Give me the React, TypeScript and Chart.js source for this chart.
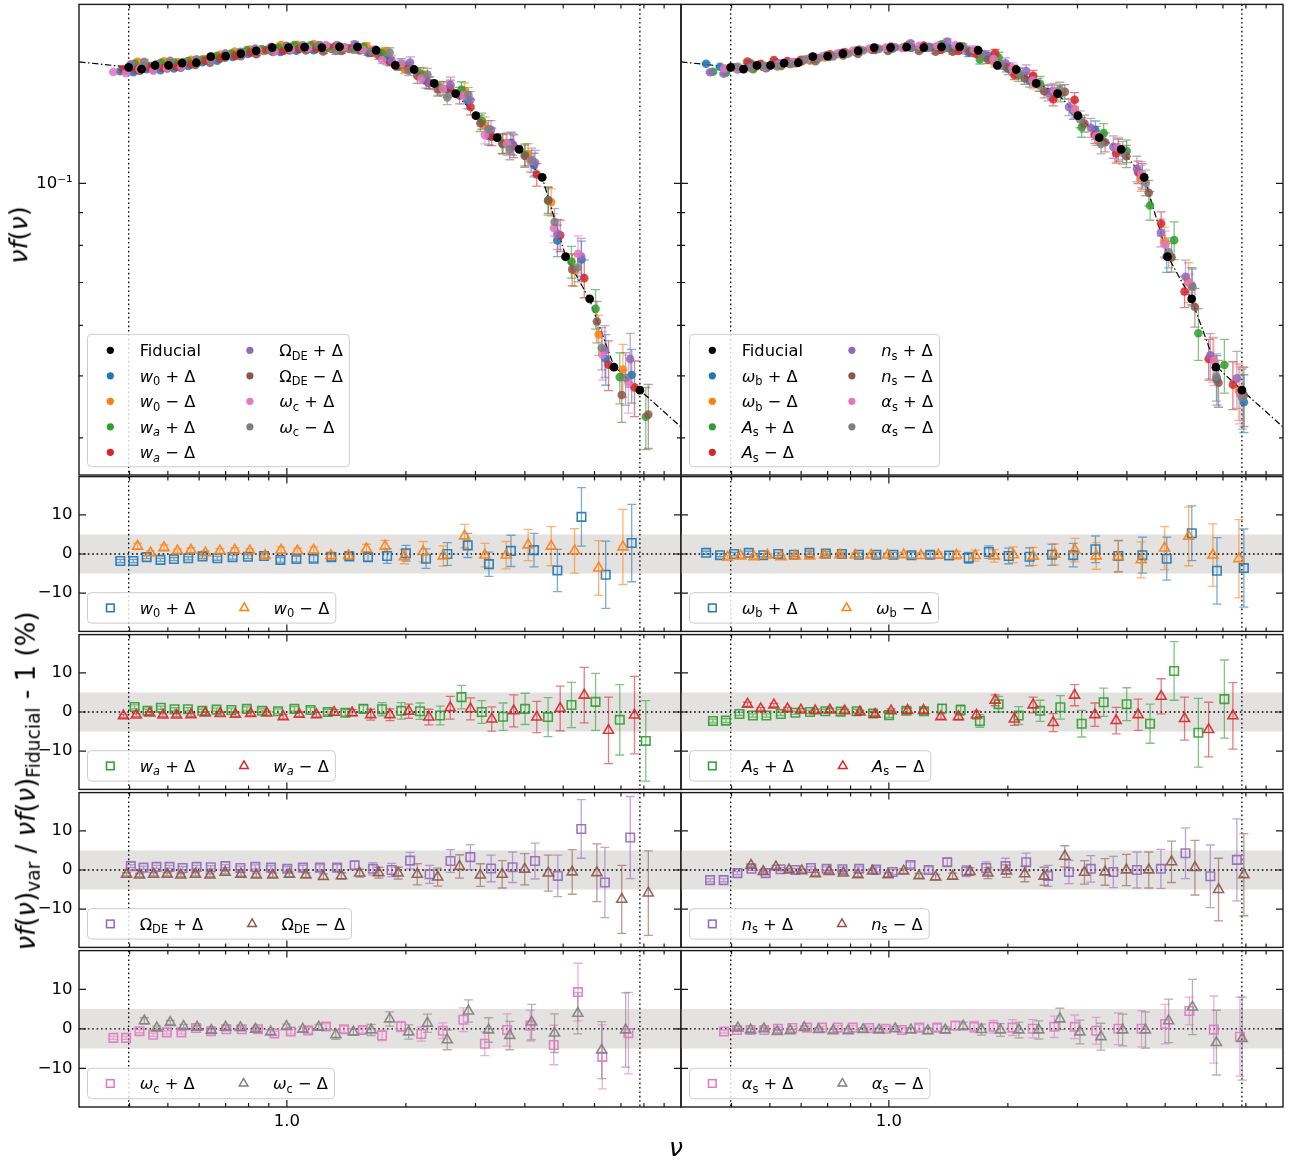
import React, { useEffect, useRef } from "react";
import { Chart, registerables } from "chart.js";

Chart.register(...registerables);

const FF = "'DejaVu Sans', 'Liberation Sans', sans-serif";
const TICK_FS = 16.5;
const LEG_FS = 16.3;

// ---------------- axes ----------------
const NU_MIN = 0.298;
const NU_MAX = 9.93;
const NUF_MIN = 0.035;
const NUF_MAX = 0.1905;
const RATIO_MIN = -19.8;
const RATIO_MAX = 19.8;
const BAND_LO = -5;
const BAND_HI = 5;

const xTickValues = [0.4, 0.5, 0.6, 0.7, 0.8, 0.9, 1, 2, 3, 4, 5, 6, 7, 8, 9];
const xTickLabels = ["", "", "", "", "", "", "1.0", "", "", "", "", "", "", "", ""];
const xTickMajor = [0, 0, 0, 0, 0, 0, 1, 0, 0, 0, 0, 0, 0, 0, 0];
const topYTickValues = [0.04, 0.05, 0.06, 0.07, 0.08, 0.09, 0.1];
const topYTickLabels = ["", "", "", "", "", "", "10\u207B\u00B9"];
const topYTickMajor = [0, 0, 0, 0, 0, 0, 1];
const ratioYTickValues = [-10, 0, 10];
const ratioYTickLabels = ["\u221210", "0", "10"];
const ratioYTickMajor = [1, 1, 1];

// ---------------- fiducial ----------------
const nuFid = [0.398, 0.429, 0.464, 0.502, 0.543, 0.590, 0.642, 0.700, 0.765, 0.836, 0.918, 1.010, 1.109, 1.226, 1.359, 1.509, 1.682, 1.881, 2.099, 2.359, 2.672, 3.007, 3.404, 3.869, 4.424, 5.070, 5.833, 6.718, 7.816];
const nufFid = [0.1518, 0.1509, 0.1529, 0.1529, 0.1542, 0.1544, 0.1578, 0.1581, 0.1596, 0.1612, 0.1631, 0.1631, 0.1633, 0.1631, 0.1635, 0.1635, 0.1615, 0.1529, 0.1507, 0.1433, 0.1382, 0.1276, 0.1179, 0.1130, 0.1022, 0.0768, 0.0660, 0.0516, 0.0475];

// fitting-function curve (dash-dot)
const nuFit = [0.298, 0.398, 0.429, 0.464, 0.502, 0.543, 0.590, 0.642, 0.700, 0.765, 0.836, 0.918, 1.010, 1.109, 1.226, 1.359, 1.509, 1.682, 1.881, 2.099, 2.359, 2.672, 3.007, 3.404, 3.869, 4.424, 5.070, 5.833, 6.718, 7.816, 9.93];
const nufFit = [0.1549, 0.1520, 0.1518, 0.1524, 0.1530, 0.1538, 0.1550, 0.1566, 0.1582, 0.1598, 0.1613, 0.1626, 0.1632, 0.1635, 0.1636, 0.1636, 0.1630, 0.1605, 0.1545, 0.1500, 0.1438, 0.1380, 0.1280, 0.1180, 0.1128, 0.1022, 0.0770, 0.0658, 0.0518, 0.0475, 0.0416];

// ---------------- left column variations (ratio in %) ----------------
const nuW0p = [0.379, 0.409, 0.442, 0.479, 0.518, 0.563, 0.612, 0.667, 0.729, 0.797, 0.875, 0.963, 1.057, 1.169, 1.296, 1.439, 1.604, 1.793, 2.001, 2.249, 2.547, 2.867, 3.245, 3.689, 4.218, 4.834, 5.561, 6.405, 7.452];
const valW0p = [-1.8, -1.8, -0.8, -1.5, -1.3, -1.1, -0.6, -1.1, -0.8, -0.7, -0.5, -1.5, -1.3, -1.2, -0.8, -0.6, -0.8, -0.5, 0.2, -1.2, 0, 2.2, -2.6, 0.8, 1.0, -4.2, 9.5, -5.3, 2.8];
const errW0p = [0.4, 0.4, 0.4, 0.4, 0.4, 0.4, 0.5, 0.5, 0.5, 0.5, 0.6, 0.6, 0.7, 0.8, 0.9, 1.0, 1.1, 1.9, 2.0, 2.5, 2.9, 3.1, 3.1, 4.0, 4.3, 5.4, 7.5, 8.6, 9.9];

const nuW0m = [0.419, 0.452, 0.489, 0.529, 0.572, 0.622, 0.677, 0.738, 0.806, 0.881, 0.967, 1.064, 1.169, 1.292, 1.432, 1.590, 1.772, 1.982, 2.212, 2.486, 2.816, 3.169, 3.587, 4.077, 4.662, 5.343, 6.147, 7.079];
const valW0m = [2.0, 0.3, 1.6, 0.8, 1.0, 0.3, 0.8, 1.0, 0.8, -0.4, 1.0, 0.8, 1.0, -0.4, -0.4, 1.3, 2.0, -0.7, 0.6, -0.5, 4.6, -0.3, -0.3, 2.3, 2.0, 0.8, -3.6, 1.8];
const errW0m = [0.8, 0.5, 0.7, 0.5, 0.6, 0.5, 0.6, 0.6, 0.6, 0.7, 0.8, 0.7, 0.8, 0.9, 1.0, 1.2, 1.5, 1.8, 2.6, 2.6, 3.0, 3.0, 3.5, 4.0, 5.0, 5.7, 7.0, 9.6];

const nuWap = [0.412, 0.444, 0.480, 0.520, 0.562, 0.611, 0.664, 0.724, 0.792, 0.865, 0.950, 1.045, 1.148, 1.269, 1.406, 1.562, 1.741, 1.947, 2.172, 2.441, 2.765, 3.112, 3.523, 4.004, 4.578, 5.247, 6.037, 6.952, 8.089];
const valWap = [1.3, 0.3, 1.1, 0.7, 0.7, 0.3, 0.6, 0.5, 0.8, 0.3, 0.2, 0.8, 0.5, 0, -0.2, 0.8, 0.7, 0.3, 0.2, -0.9, 3.8, 0, -1.2, 0.8, -1.3, 1.8, 2.6, -2.0, -7.4];
const errWap = [0.5, 0.4, 0.4, 0.4, 0.4, 0.4, 0.4, 0.5, 0.5, 0.5, 0.6, 0.6, 0.7, 0.7, 0.8, 1.0, 1.7, 2.1, 2.1, 2.4, 3.0, 2.9, 3.5, 4.0, 5.0, 5.8, 7.3, 9.0, 10.3];

const nuWam = [0.386, 0.416, 0.450, 0.486, 0.526, 0.572, 0.622, 0.678, 0.741, 0.810, 0.890, 0.979, 1.075, 1.188, 1.317, 1.462, 1.630, 1.823, 2.034, 2.286, 2.589, 2.914, 3.298, 3.749, 4.287, 4.913, 5.652, 6.510, 7.574];
const valWam = [-1.0, -0.8, -0.3, -0.8, -0.8, -0.7, -0.3, -0.4, -0.6, -0.4, -0.3, -1.2, -0.6, -0.7, -0.1, -0.2, -0.7, -0.7, 0.2, -1.3, 1.1, 0.8, -1.8, 0.3, -1.3, 0.9, 4.3, -4.7, -0.8];
const errWam = [0.4, 0.4, 0.4, 0.4, 0.4, 0.4, 0.4, 0.4, 0.5, 0.5, 0.5, 0.6, 0.6, 0.6, 0.7, 0.8, 1.4, 1.5, 1.8, 2.0, 2.9, 2.8, 3.1, 4.1, 4.0, 5.7, 7.1, 8.5, 9.9];

const nuOdep = [0.403, 0.434, 0.468, 0.505, 0.545, 0.591, 0.642, 0.699, 0.763, 0.832, 0.912, 1.002, 1.098, 1.212, 1.340, 1.484, 1.651, 1.841, 2.050, 2.297, 2.594, 2.911, 3.285, 3.723, 4.244, 4.845, 5.554, 6.374, 7.388];
const valOdep = [1.0, 0.6, 0.8, 0.8, 0.5, 0.8, 0.7, 1.0, 0.5, 0.8, 0.6, 0.3, 0.6, 0.6, 0.6, 1.2, 0.3, 0, 2.4, -1.1, 2.3, 3.3, 0.4, 0.7, 2.3, -1.5, 10.5, -3.2, 8.3];
const errOdep = [0.4, 0.4, 0.4, 0.4, 0.4, 0.4, 0.4, 0.4, 0.5, 0.5, 0.5, 0.6, 0.6, 0.7, 0.8, 1.0, 1.6, 1.7, 2.1, 2.3, 2.9, 3.2, 3.4, 3.9, 4.6, 5.3, 7.5, 9.0, 10.5];

const nuOdem = [0.393, 0.424, 0.460, 0.498, 0.539, 0.587, 0.639, 0.698, 0.765, 0.837, 0.921, 1.015, 1.117, 1.237, 1.374, 1.528, 1.707, 1.912, 2.137, 2.407, 2.734, 3.086, 3.504, 3.996, 4.584, 5.269, 6.084, 7.032, 8.209];
const valOdem = [-1.1, -1.3, -1.1, -1.1, -1.3, -1.1, -1.3, -0.6, -1.1, -1.3, -1.3, -1.1, -1.3, -1.7, -1.5, -0.8, -0.7, -0.8, -1.1, -1.8, 0.9, -1.3, -1.1, 0.2, -0.8, -0.5, -0.7, -7.5, -5.9];
const errOdem = [0.4, 0.4, 0.4, 0.4, 0.4, 0.4, 0.4, 0.4, 0.5, 0.5, 0.5, 0.6, 0.6, 0.7, 0.8, 1.0, 1.4, 1.5, 2.7, 2.3, 3.0, 2.9, 3.5, 4.0, 4.6, 5.7, 7.4, 8.7, 10.8];

const nuOcp = [0.364, 0.392, 0.424, 0.459, 0.497, 0.541, 0.589, 0.643, 0.703, 0.769, 0.845, 0.930, 1.023, 1.132, 1.255, 1.395, 1.556, 1.741, 1.945, 2.188, 2.481, 2.796, 3.169, 3.606, 4.128, 4.733, 5.449, 6.279, 7.310];
const valOcp = [-2.3, -2.3, -0.6, -1.5, -0.9, -0.9, 0.2, -0.6, -0.1, -0.1, -0.1, -1.2, -0.7, -0.4, 0.6, -0.1, -0.3, -1.7, 0.6, -1.3, -0.5, 2.3, -3.8, -0.3, 0.8, -4.1, 9.3, -7.1, -1.1];
const errOcp = [0.4, 0.4, 0.4, 0.4, 0.4, 0.4, 0.4, 0.4, 0.5, 0.5, 0.5, 0.6, 0.6, 0.7, 0.7, 0.8, 0.8, 1.3, 1.3, 1.8, 2.0, 3.0, 3.0, 4.1, 3.9, 5.0, 7.3, 8.1, 10.3];

const nuOcm = [0.436, 0.469, 0.507, 0.548, 0.593, 0.644, 0.700, 0.763, 0.833, 0.910, 0.998, 1.097, 1.204, 1.330, 1.473, 1.634, 1.820, 2.033, 2.267, 2.545, 2.879, 3.238, 3.663, 4.161, 4.755, 5.444, 6.255, 7.192];
const valOcm = [2.0, 0.2, 1.6, 0.6, 0.4, -0.4, 0.4, 0.3, -0.1, -0.8, 0.6, -0.1, 0.4, -1.5, -0.8, -0.3, 2.5, -0.8, 1.4, -2.8, 4.5, -0.3, -1.7, 1.7, -1.1, 3.9, -5.4, -0.3];
const errOcm = [0.8, 0.5, 0.5, 0.5, 0.5, 0.5, 0.5, 0.5, 0.5, 0.6, 0.6, 0.6, 0.7, 1.2, 0.8, 1.4, 1.8, 1.8, 2.3, 2.5, 2.8, 3.1, 3.6, 4.5, 4.9, 5.2, 7.2, 9.4];

// ---------------- right column variations ----------------
const nuObp = [0.345, 0.374, 0.406, 0.442, 0.481, 0.525, 0.575, 0.630, 0.693, 0.761, 0.840, 0.930, 1.027, 1.141, 1.272, 1.420, 1.592, 1.790, 2.009, 2.270, 2.586, 2.926, 3.331, 3.807, 4.378, 5.045, 5.837, 6.760, 7.907];
const valObp = [0.3, -0.3, 0.0, 0.3, -0.3, 0.0, -0.2, 0.3, 0.1, 0.0, -0.2, -0.2, -0.2, -0.3, -0.2, -0.4, -1.0, 0.5, -0.5, -0.7, -0.2, -0.3, 1.2, -0.5, -0.3, -1.2, 5.3, -4.3, -3.6];
const errObp = [0.4, 0.4, 0.4, 0.4, 0.4, 0.4, 0.4, 0.4, 0.5, 0.5, 0.5, 0.6, 0.6, 0.7, 0.8, 1.0, 1.4, 1.6, 2.0, 2.3, 2.7, 3.0, 3.4, 4.0, 4.6, 5.5, 7.0, 8.5, 10.0];

const nuObm = [0.391, 0.422, 0.456, 0.493, 0.534, 0.580, 0.631, 0.688, 0.752, 0.822, 0.902, 0.993, 1.090, 1.205, 1.335, 1.483, 1.653, 1.848, 2.063, 2.318, 2.626, 2.955, 3.345, 3.802, 4.347, 4.982, 5.732, 6.602, 7.681];
const valObm = [-0.8, -0.5, -0.7, -0.3, -0.7, -0.5, -0.5, -0.3, -0.2, -0.3, -0.3, -0.3, -0.2, -0.4, -0.3, -0.3, -0.4, -0.5, -0.2, -0.6, -0.1, 1.0, -0.5, -0.7, -1.5, 1.5, 4.5, -0.3, -1.2];
const errObm = [0.4, 0.4, 0.4, 0.4, 0.4, 0.4, 0.4, 0.4, 0.5, 0.5, 0.5, 0.6, 0.6, 0.7, 0.8, 1.0, 1.4, 1.6, 2.0, 2.3, 2.7, 3.0, 3.4, 4.0, 4.6, 5.5, 7.5, 8.0, 10.0];

const nuAsp = [0.359, 0.387, 0.419, 0.453, 0.490, 0.533, 0.580, 0.632, 0.691, 0.755, 0.829, 0.912, 1.001, 1.107, 1.227, 1.363, 1.519, 1.699, 1.895, 2.130, 2.413, 2.715, 3.074, 3.494, 3.995, 4.578, 5.267, 6.066, 7.058];
const valAsp = [-2.3, -2.2, -0.5, -0.9, -0.9, -0.5, -0.2, 0, 0.2, 0.1, 0.2, -0.4, -0.8, 0.3, 0.2, 0.9, 0.5, -2.3, 2.0, -0.9, 0.3, 1.2, -3.0, 2.5, 2.0, -3.0, 10.5, -5.3, 3.3];
const errAsp = [0.5, 0.5, 0.4, 0.4, 0.4, 0.4, 0.4, 0.4, 0.5, 0.5, 0.5, 0.6, 0.6, 0.7, 0.8, 1.0, 1.3, 1.6, 2.0, 2.3, 2.7, 3.0, 3.4, 3.6, 4.2, 5.0, 7.5, 8.8, 10.0];

const nuAsm = [0.439, 0.474, 0.512, 0.554, 0.599, 0.651, 0.709, 0.773, 0.845, 0.923, 1.013, 1.115, 1.224, 1.354, 1.500, 1.666, 1.857, 2.077, 2.317, 2.604, 2.950, 3.320, 3.758, 4.271, 4.884, 5.597, 6.440, 7.417];
const valAsm = [2.0, 0.8, 1.8, 0.8, 0.5, 0.3, 0.5, 0.3, 0, -0.6, 0.3, 0.4, 0.4, -1.2, -1.2, -0.8, 3.0, -1.8, 1.8, -2.7, 4.3, -0.7, -2.2, -0.7, 4.0, -1.7, -4.5, -1.0];
const errAsm = [0.5, 0.4, 0.4, 0.4, 0.4, 0.4, 0.4, 0.4, 0.5, 0.5, 0.5, 0.6, 0.6, 0.7, 0.8, 1.0, 1.4, 1.6, 2.0, 2.3, 2.7, 3.0, 3.4, 4.0, 4.5, 5.5, 7.0, 8.5];

const nuNsp = [0.353, 0.382, 0.414, 0.449, 0.488, 0.532, 0.580, 0.635, 0.696, 0.763, 0.841, 0.928, 1.022, 1.134, 1.261, 1.405, 1.571, 1.763, 1.973, 2.225, 2.528, 2.855, 3.242, 3.696, 4.241, 4.876, 5.628, 6.503, 7.591];
const valNsp = [-2.6, -2.6, -0.8, 0.3, -0.8, 0.2, 0, 0.5, 0.3, 0.2, 0.3, 0.1, -0.5, 1.3, 0, 2.0, -0.3, 0.5, 1.0, 2.0, -1.5, -0.5, 0.3, -0.5, 0, 0.3, 4.3, -1.6, 2.6];
const errNsp = [0.4, 0.4, 0.4, 0.4, 0.4, 0.4, 0.4, 0.4, 0.5, 0.5, 0.5, 0.6, 0.6, 0.7, 0.8, 1.0, 1.4, 1.6, 2.0, 2.3, 2.7, 3.0, 3.4, 4.0, 4.6, 5.0, 6.5, 8.0, 10.5];

const nuNsm = [0.448, 0.481, 0.518, 0.559, 0.602, 0.652, 0.706, 0.767, 0.835, 0.909, 0.995, 1.090, 1.192, 1.313, 1.450, 1.604, 1.781, 1.984, 2.206, 2.470, 2.787, 3.124, 3.523, 3.989, 4.544, 5.188, 5.946, 6.822, 7.907];
const valNsm = [1.2, -0.4, 0.8, 0, -0.2, -1.0, -0.4, -0.8, -1.2, -0.3, -1.2, -0.3, -1.5, -1.8, -1.6, -0.4, -0.8, -0.3, -1.0, -1.6, 3.5, -0.6, -0.5, 0, 0, 2.1, 0.6, -5.0, -1.2];
const errNsm = [0.4, 0.4, 0.4, 0.4, 0.4, 0.4, 0.4, 0.4, 0.5, 0.5, 0.5, 0.6, 0.6, 0.7, 0.8, 1.0, 1.4, 1.6, 2.0, 2.3, 2.7, 3.0, 3.4, 4.0, 4.6, 5.3, 7.0, 8.0, 10.5];

const nuAlsp = [0.383, 0.413, 0.447, 0.484, 0.524, 0.570, 0.621, 0.678, 0.742, 0.811, 0.892, 0.982, 1.079, 1.194, 1.325, 1.473, 1.643, 1.840, 2.055, 2.312, 2.621, 2.953, 3.346, 3.807, 4.357, 4.998, 5.756, 6.636, 7.728];
const valAlsp = [-0.7, -0.3, -0.3, -0.3, 0, 0.2, 0.3, 0.3, 0.3, 0.3, 0.2, 0, -0.3, 0.3, 0.3, 0.8, 0.5, 0.5, 0.3, 0, 0.5, 0.5, -0.5, 0, 0, 1.2, 4.5, -0.2, -2.0];
const errAlsp = [0.4, 0.4, 0.4, 0.4, 0.4, 0.4, 0.4, 0.4, 0.5, 0.5, 0.5, 0.6, 0.6, 0.7, 0.8, 1.0, 1.4, 1.6, 2.0, 2.3, 2.7, 3.0, 3.4, 4.0, 4.6, 5.0, 3.5, 8.5, 10.0];

const nuAlsm = [0.415, 0.447, 0.483, 0.522, 0.563, 0.611, 0.664, 0.723, 0.789, 0.861, 0.944, 1.037, 1.137, 1.255, 1.389, 1.541, 1.715, 1.915, 2.133, 2.394, 2.708, 3.043, 3.440, 3.904, 4.458, 5.101, 5.860, 6.739, 7.829];
const valAlsm = [0.2, -0.3, 0, -0.7, -0.5, 0.3, -0.2, -0.5, -0.5, -0.2, -0.3, 0, -0.3, -0.5, -0.3, 0.7, -0.2, -0.3, -0.3, -0.3, 2.5, -0.8, -2.0, -0.3, -0.3, 2.0, 5.5, -3.5, -2.5];
const errAlsm = [0.4, 0.4, 0.4, 0.4, 0.4, 0.4, 0.4, 0.4, 0.5, 0.5, 0.5, 0.6, 0.6, 0.7, 0.8, 1.0, 1.4, 1.6, 2.0, 2.3, 2.7, 3.0, 3.4, 4.0, 4.6, 5.5, 7.0, 8.2, 10.5];

// ---------------- styling ----------------
const C_BLUE = "#1f77b4";
const C_ORANGE = "#ff7f0e";
const C_GREEN = "#2ca02c";
const C_RED = "#d62728";
const C_PURPLE = "#9467bd";
const C_BROWN = "#8c564b";
const C_PINK = "#e377c2";
const C_GRAY = "#7f7f7f";

type Seg = { t: string; it?: boolean; sub?: boolean };
type Series = { nu: number[]; val: number[]; err: number[]; color: string; label: Seg[] };

const symW0: Seg[] = [{ t: "w", it: true }, { t: "0", sub: true }];
const symWa: Seg[] = [{ t: "w", it: true }, { t: "a", it: true, sub: true }];
const symOde: Seg[] = [{ t: "\u03A9" }, { t: "DE", sub: true }];
const symOc: Seg[] = [{ t: "\u03C9", it: true }, { t: "c", sub: true }];
const symOb: Seg[] = [{ t: "\u03C9", it: true }, { t: "b", sub: true }];
const symAs: Seg[] = [{ t: "A", it: true }, { t: "s", sub: true }];
const symNs: Seg[] = [{ t: "n", it: true }, { t: "s", sub: true }];
const symAls: Seg[] = [{ t: "\u03B1", it: true }, { t: "s", sub: true }];
const plusD: Seg = { t: " + \u0394" };
const minusD: Seg = { t: " \u2212 \u0394" };

const sW0p: Series = { nu: nuW0p, val: valW0p, err: errW0p, color: C_BLUE, label: [...symW0, plusD] };
const sW0m: Series = { nu: nuW0m, val: valW0m, err: errW0m, color: C_ORANGE, label: [...symW0, minusD] };
const sWap: Series = { nu: nuWap, val: valWap, err: errWap, color: C_GREEN, label: [...symWa, plusD] };
const sWam: Series = { nu: nuWam, val: valWam, err: errWam, color: C_RED, label: [...symWa, minusD] };
const sOdep: Series = { nu: nuOdep, val: valOdep, err: errOdep, color: C_PURPLE, label: [...symOde, plusD] };
const sOdem: Series = { nu: nuOdem, val: valOdem, err: errOdem, color: C_BROWN, label: [...symOde, minusD] };
const sOcp: Series = { nu: nuOcp, val: valOcp, err: errOcp, color: C_PINK, label: [...symOc, plusD] };
const sOcm: Series = { nu: nuOcm, val: valOcm, err: errOcm, color: C_GRAY, label: [...symOc, minusD] };

const sObp: Series = { nu: nuObp, val: valObp, err: errObp, color: C_BLUE, label: [...symOb, plusD] };
const sObm: Series = { nu: nuObm, val: valObm, err: errObm, color: C_ORANGE, label: [...symOb, minusD] };
const sAsp: Series = { nu: nuAsp, val: valAsp, err: errAsp, color: C_GREEN, label: [...symAs, plusD] };
const sAsm: Series = { nu: nuAsm, val: valAsm, err: errAsm, color: C_RED, label: [...symAs, minusD] };
const sNsp: Series = { nu: nuNsp, val: valNsp, err: errNsp, color: C_PURPLE, label: [...symNs, plusD] };
const sNsm: Series = { nu: nuNsm, val: valNsm, err: errNsm, color: C_BROWN, label: [...symNs, minusD] };
const sAlsp: Series = { nu: nuAlsp, val: valAlsp, err: errAlsp, color: C_PINK, label: [...symAls, plusD] };
const sAlsm: Series = { nu: nuAlsm, val: valAlsm, err: errAlsm, color: C_GRAY, label: [...symAls, minusD] };

const LEFT_SERIES = [sW0p, sW0m, sWap, sWam, sOdep, sOdem, sOcp, sOcm];
const RIGHT_SERIES = [sObp, sObm, sAsp, sAsm, sNsp, sNsm, sAlsp, sAlsm];

const PANELS = [
  { col: 0, row: 0, series: LEFT_SERIES },
  { col: 0, row: 1, series: [sW0p, sW0m] },
  { col: 0, row: 2, series: [sWap, sWam] },
  { col: 0, row: 3, series: [sOdep, sOdem] },
  { col: 0, row: 4, series: [sOcp, sOcm] },
  { col: 1, row: 0, series: RIGHT_SERIES },
  { col: 1, row: 1, series: [sObp, sObm] },
  { col: 1, row: 2, series: [sAsp, sAsm] },
  { col: 1, row: 3, series: [sNsp, sNsm] },
  { col: 1, row: 4, series: [sAlsp, sAlsm] },
];

// ---------------- helpers ----------------
function rgba(hex: string, a: number) {
  const n = parseInt(hex.slice(1), 16);
  return `rgba(${(n >> 16) & 255},${(n >> 8) & 255},${n & 255},${a})`;
}
// fiducial curve evaluated at a given nu (log-log between the curve's own nodes)
function fidCurveAt(nu: number) {
  const lx = Math.log(nu);
  for (let i = 0; i < nuFit.length - 1; i++) {
    const a = Math.log(nuFit[i]), b = Math.log(nuFit[i + 1]);
    if (lx <= b || i === nuFit.length - 2) {
      const t = (lx - a) / (b - a);
      return Math.exp(Math.log(nufFit[i]) + t * (Math.log(nufFit[i + 1]) - Math.log(nufFit[i])));
    }
  }
  return nufFit[nufFit.length - 1];
}
function segFont(s: Seg, fs: number) {
  const size = s.sub ? fs * 0.7 : fs;
  return `${s.it ? "italic " : ""}${size}px ${FF}`;
}
function measureSegs(ctx: CanvasRenderingContext2D, segs: Seg[], fs: number) {
  let w = 0;
  for (const s of segs) {
    ctx.font = segFont(s, fs);
    w += ctx.measureText(s.t).width;
  }
  return w;
}
function drawSegs(ctx: CanvasRenderingContext2D, segs: Seg[], x: number, base: number, fs: number) {
  let cx = x;
  ctx.textAlign = "left";
  ctx.textBaseline = "alphabetic";
  for (const s of segs) {
    ctx.font = segFont(s, fs);
    ctx.fillText(s.t, cx, base + (s.sub ? fs * 0.22 : 0));
    cx += ctx.measureText(s.t).width;
  }
}

const AX_LEFT = [79, 681];
const AX_WIDTH = 602;
const ROW_EDGES = [1, 475, 633, 791, 949, 1107];

function geom(col: number, row: number) {
  const cx = col === 0 ? 0 : 672;
  const cw = col === 0 ? 692 : 621;
  const areaLeft = AX_LEFT[col] - cx;
  const padRight = cw - (areaLeft + AX_WIDTH);
  const top = ROW_EDGES[row];
  const bottom = ROW_EDGES[row + 1];
  const padTop = row === 0 ? 1 : 6;
  const cy = top - padTop;
  const xAxisH = row === 0 ? 7 : row === 4 ? 45 : 6;
  const ch = bottom - cy + xAxisH;
  return { cx, cw, cy, ch, areaLeft, padRight, padTop, xAxisH };
}

type LegendEntry = { label: Seg[]; color: string; marker: string };

function drawMarker(ctx: CanvasRenderingContext2D, marker: string, x: number, y: number, color: string) {
  ctx.save();
  if (marker === "dot") {
    ctx.fillStyle = color;
    ctx.beginPath();
    ctx.arc(x, y, 3.6, 0, Math.PI * 2);
    ctx.fill();
  } else if (marker === "rect") {
    ctx.strokeStyle = color;
    ctx.lineWidth = 1.5;
    ctx.strokeRect(x - 3.8, y - 3.8, 7.6, 7.6);
  } else {
    ctx.strokeStyle = color;
    ctx.lineWidth = 1.5;
    const r = 5;
    ctx.beginPath();
    ctx.moveTo(x, y - r);
    ctx.lineTo(x + r * 0.866, y + r * 0.5);
    ctx.lineTo(x - r * 0.866, y + r * 0.5);
    ctx.closePath();
    ctx.stroke();
  }
  ctx.restore();
}

function makeLegendPlugin(entries: LegendEntry[]) {
  return {
    id: "customLegend",
    afterDraw(chart: any) {
      const ctx: CanvasRenderingContext2D = chart.ctx;
      const a = chart.chartArea;
      const fs = LEG_FS;
      const nRows = Math.ceil(entries.length / 2);
      const colA = entries.slice(0, nRows);
      const colB = entries.slice(nRows);
      const wA = Math.max(...colA.map((e) => measureSegs(ctx, e.label, fs)));
      const wB = colB.length ? Math.max(...colB.map((e) => measureSegs(ctx, e.label, fs))) : 0;
      const bp = 0.4 * fs, hl = 2 * fs, htp = 0.8 * fs, cs = 2 * fs;
      const boxW = bp + hl + htp + wA + cs + hl + htp + wB + bp;
      const pitch = 25.5, firstC = 16;
      const boxH = 2 * 15.2 + (nRows - 1) * pitch;
      const bx = a.left + 8.5;
      const by = a.bottom - 8.3 - boxH;
      ctx.save();
      const r = 4;
      ctx.beginPath();
      ctx.moveTo(bx + r, by);
      ctx.lineTo(bx + boxW - r, by);
      ctx.arcTo(bx + boxW, by, bx + boxW, by + r, r);
      ctx.lineTo(bx + boxW, by + boxH - r);
      ctx.arcTo(bx + boxW, by + boxH, bx + boxW - r, by + boxH, r);
      ctx.lineTo(bx + r, by + boxH);
      ctx.arcTo(bx, by + boxH, bx, by + boxH - r, r);
      ctx.lineTo(bx, by + r);
      ctx.arcTo(bx, by, bx + r, by, r);
      ctx.closePath();
      ctx.fillStyle = "rgba(255,255,255,0.8)";
      ctx.fill();
      ctx.strokeStyle = "#cccccc";
      ctx.lineWidth = 1;
      ctx.stroke();
      entries.forEach((e, i) => {
        const c = i < nRows ? 0 : 1;
        const rr = c === 0 ? i : i - nRows;
        const colX = c === 0 ? bx + bp : bx + bp + hl + htp + wA + cs;
        const cy = by + (nRows === 1 ? 15.2 : firstC) + rr * pitch;
        drawMarker(ctx, e.marker, colX + hl / 2, cy, e.color);
        ctx.fillStyle = "#000";
        drawSegs(ctx, e.label, colX + hl + htp, cy + 0.36 * fs, fs);
      });
      ctx.restore();
    },
  };
}

function buildConfig(col: number, row: number, series: Series[], g: any) {
  const isMain = row === 0;
  const datasets: any[] = [];
  if (isMain) {
    datasets.push({
      data: nuFit.map((x, k) => ({ x, y: nufFit[k] })),
      showLine: true,
      borderColor: "#000",
      borderWidth: 1.2,
      borderDash: [6.5, 2.5, 1.5, 2.5],
      pointRadius: 0,
      order: 1000,
    });
    series.forEach((s, si) => {
      const base = s.nu.map((x) => fidCurveAt(x));
      datasets.push({
        data: s.nu.map((x, k) => ({ x, y: base[k] * (1 + s.val[k] / 100) })),
        errs: s.err.map((e, k) => (base[k] * e) / 100),
        errColor: rgba(s.color, 0.6),
        pointStyle: "circle",
        pointRadius: 4.3,
        backgroundColor: rgba(s.color, 0.85),
        borderWidth: 0,
        order: 100 - si,
      });
    });
    datasets.push({
      data: nuFid.map((x, k) => ({ x, y: nufFid[k] })),
      pointStyle: "circle",
      pointRadius: 4.4,
      backgroundColor: "#000",
      borderWidth: 0,
      order: -1,
    });
  } else {
    series.forEach((s, si) => {
      datasets.push({
        data: s.nu.map((x, k) => ({ x, y: s.val[k] })),
        errs: s.err,
        errColor: rgba(s.color, 0.6),
        pointStyle: si === 0 ? "rect" : "triangle",
        pointRadius: si === 0 ? 6 : 5.8,
        backgroundColor: "rgba(0,0,0,0)",
        borderColor: rgba(s.color, 0.9),
        borderWidth: 1.6,
        order: 100 - si,
      });
    });
  }

  const yTicks = isMain ? topYTickValues : ratioYTickValues;
  const yLabels = isMain ? topYTickLabels : ratioYTickLabels;
  const yMajor = isMain ? topYTickMajor : ratioYTickMajor;

  const backPlugin = {
    id: "back",
    beforeDatasetsDraw(chart: any) {
      const ctx: CanvasRenderingContext2D = chart.ctx;
      const a = chart.chartArea;
      const xs = chart.scales.x, ys = chart.scales.y;
      ctx.save();
      ctx.beginPath();
      ctx.rect(a.left, a.top, a.right - a.left, a.bottom - a.top);
      ctx.clip();
      if (!isMain) {
        const y1 = ys.getPixelForValue(BAND_HI), y2 = ys.getPixelForValue(BAND_LO);
        ctx.fillStyle = "#e4e2e0";
        ctx.fillRect(a.left, y1, a.right - a.left, y2 - y1);
        const y0 = ys.getPixelForValue(0);
        ctx.strokeStyle = "#000";
        ctx.lineWidth = 1.3;
        ctx.setLineDash([1.6, 2.8]);
        ctx.beginPath();
        ctx.moveTo(a.left, y0);
        ctx.lineTo(a.right, y0);
        ctx.stroke();
      }
      ctx.strokeStyle = "#000";
      ctx.lineWidth = 1.3;
      ctx.setLineDash([1.6, 2.8]);
      for (const v of [nuFid[0], nuFid[nuFid.length - 1]]) {
        const px = xs.getPixelForValue(v);
        ctx.beginPath();
        ctx.moveTo(px, a.top);
        ctx.lineTo(px, a.bottom);
        ctx.stroke();
      }
      ctx.setLineDash([]);
      // error bars
      chart.data.datasets.forEach((ds: any, di: number) => {
        if (!ds.errs) return;
        const meta = chart.getDatasetMeta(di);
        ctx.strokeStyle = ds.errColor;
        ctx.lineWidth = 1.3;
        meta.data.forEach((pt: any, k: number) => {
          const raw = ds.data[k];
          const e = ds.errs[k];
          const yTop = ys.getPixelForValue(raw.y + e);
          const yBot = ys.getPixelForValue(raw.y - e);
          const x = pt.x;
          ctx.beginPath();
          ctx.moveTo(x, yTop);
          ctx.lineTo(x, yBot);
          ctx.moveTo(x - 4.5, yTop);
          ctx.lineTo(x + 4.5, yTop);
          ctx.moveTo(x - 4.5, yBot);
          ctx.lineTo(x + 4.5, yBot);
          ctx.stroke();
        });
      });
      ctx.restore();
    },
  };

  const legendEntries: LegendEntry[] = isMain
    ? [{ label: [{ t: "Fiducial" }], color: "#000", marker: "dot" }, ...series.map((s) => ({ label: s.label, color: s.color, marker: "dot" }))]
    : series.map((s, si) => ({ label: s.label, color: s.color, marker: si === 0 ? "rect" : "tri" }));

  const framePlugin = {
    id: "frame",
    afterDraw(chart: any) {
      const ctx: CanvasRenderingContext2D = chart.ctx;
      const a = chart.chartArea;
      const xs = chart.scales.x, ys = chart.scales.y;
      ctx.save();
      ctx.strokeStyle = "#1a1a1a";
      ctx.lineWidth = 1.2;
      ctx.beginPath();
      xTickValues.forEach((v, i) => {
        const px = xs.getPixelForValue(v);
        const len = xTickMajor[i] ? 7 : 4;
        ctx.moveTo(px, a.bottom);
        ctx.lineTo(px, a.bottom - len);
        ctx.moveTo(px, a.top);
        ctx.lineTo(px, a.top + len);
      });
      yTicks.forEach((v, i) => {
        const py = ys.getPixelForValue(v);
        const len = yMajor[i] ? 7 : 4;
        ctx.moveTo(a.left, py);
        ctx.lineTo(a.left + len, py);
        ctx.moveTo(a.right, py);
        ctx.lineTo(a.right - len, py);
      });
      ctx.stroke();
      ctx.lineWidth = 1.4;
      ctx.strokeRect(a.left, a.top, a.right - a.left, a.bottom - a.top);
      ctx.restore();
    },
  };

  return {
    type: "scatter",
    data: { datasets },
    options: {
      animation: false,
      responsive: false,
      events: [],
      layout: { padding: { left: 0, right: g.padRight, top: g.padTop, bottom: 0 } },
      plugins: { legend: { display: false }, tooltip: { enabled: false }, title: { display: false } },
      scales: {
        x: {
          type: "logarithmic",
          position: "bottom",
          min: NU_MIN,
          max: NU_MAX,
          afterBuildTicks: (s: any) => {
            s.ticks = xTickValues.map((v) => ({ value: v }));
          },
          afterFit: (s: any) => {
            s.height = g.xAxisH;
            s.paddingLeft = 0;
            s.paddingRight = 0;
            s.paddingTop = 0;
            s.paddingBottom = 0;
          },
          ticks: {
            display: row === 4,
            autoSkip: false,
            maxRotation: 0,
            minRotation: 0,
            padding: 5,
            color: "#000",
            font: { family: FF, size: TICK_FS },
            callback: (_v: any, i: number) => xTickLabels[i],
          },
          grid: { display: false, drawTicks: false },
          border: { display: false },
        },
        y: {
          type: isMain ? "logarithmic" : "linear",
          position: "left",
          min: isMain ? NUF_MIN : RATIO_MIN,
          max: isMain ? NUF_MAX : RATIO_MAX,
          afterBuildTicks: (s: any) => {
            s.ticks = yTicks.map((v) => ({ value: v }));
          },
          afterFit: (s: any) => {
            s.width = g.areaLeft;
            s.paddingLeft = 0;
            s.paddingRight = 0;
            s.paddingTop = 0;
            s.paddingBottom = 0;
          },
          ticks: {
            display: col === 0,
            autoSkip: false,
            padding: 6.5,
            color: "#000",
            font: { family: FF, size: TICK_FS },
            callback: (_v: any, i: number) => yLabels[i],
          },
          grid: { display: false, drawTicks: false },
          border: { display: false },
        },
      },
    },
    plugins: [backPlugin, makeLegendPlugin(legendEntries), framePlugin],
  };
}

function Panel({ col, row, series }: { col: number; row: number; series: Series[] }) {
  const ref = useRef<HTMLCanvasElement | null>(null);
  const g = geom(col, row);
  useEffect(() => {
    if (!ref.current) return;
    const chart = new Chart(ref.current, buildConfig(col, row, series, g) as any);
    return () => chart.destroy();
  }, []);
  return (
    <canvas
      ref={ref}
      width={g.cw}
      height={g.ch}
      style={{ position: "absolute", left: g.cx, top: g.cy, width: g.cw, height: g.ch }}
    />
  );
}

const subStyle: React.CSSProperties = { fontSize: "72%", verticalAlign: "-0.25em", fontStyle: "normal" };

function rot(cx: number, cy: number, fs: number): React.CSSProperties {
  return {
    position: "absolute",
    left: cx,
    top: cy,
    transform: "translate(-50%, -50%) rotate(-90deg)",
    whiteSpace: "nowrap",
    fontSize: fs,
    lineHeight: 1,
  };
}

export default function App() {
  return (
    <div
      style={{
        position: "absolute",
        left: 0,
        top: 0,
        width: 1293,
        height: 1160,
        background: "#fff",
        fontFamily: FF,
        color: "#000",
        overflow: "hidden",
      }}
    >
      {PANELS.map((p) => (
        <Panel key={`${p.col}-${p.row}`} col={p.col} row={p.row} series={p.series} />
      ))}
      <div style={rot(19, 235, 25.5)}>
        <i>ν</i><i>f</i>(<i>ν</i>)
      </div>
      <div style={rot(28, 781, 26)}>
        <i>ν</i><i>f</i>(<i>ν</i>)<span style={subStyle}>var</span> / <i>ν</i><i>f</i>(<i>ν</i>)
        <span style={subStyle}>Fiducial</span> - 1 (%)
      </div>
      <div
        style={{
          position: "absolute",
          left: 676,
          top: 1147,
          transform: "translate(-50%, -50%)",
          fontSize: 25,
          lineHeight: 1,
          whiteSpace: "nowrap",
        }}
      >
        <i>ν</i>
      </div>
    </div>
  );
}
